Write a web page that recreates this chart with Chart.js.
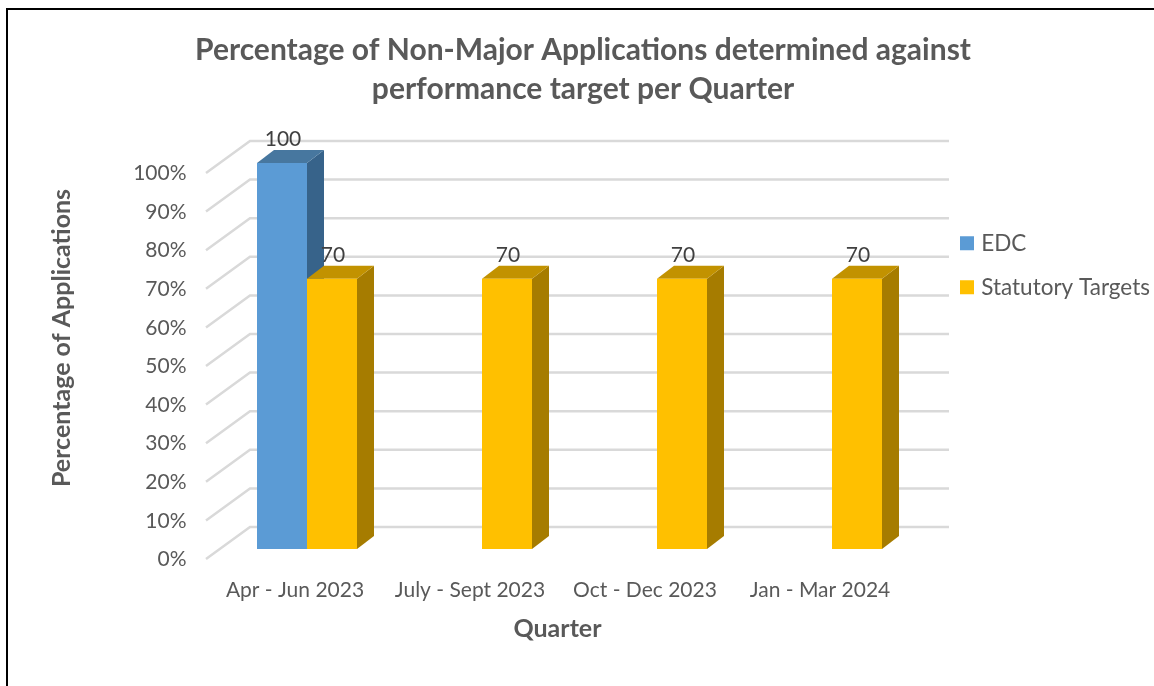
<!DOCTYPE html>
<html>
<head>
<meta charset="utf-8">
<script src="https://cdn.jsdelivr.net/npm/chart.js@4"></script>
<style>
  html, body { margin: 0; padding: 0; background: #fff; overflow: hidden; }
  #wrap { position: relative; width: 1154px; height: 686px; }
  #frame { position: absolute; left: 6px; top: 8px; right: 0; bottom: 0; border-left: 2px solid #000; border-top: 2px solid #000; }
  canvas { position: absolute; left: 0; top: 0; }
</style>
</head>
<body>
<div id="wrap">
  <div id="frame"></div>
  <canvas id="chart" width="1154" height="686"></canvas>
</div>
<script>
const categories = ["Apr - Jun 2023", "July - Sept 2023", "Oct - Dec 2023", "Jan - Mar 2024"];
const edcValues = [100, null, null, null];
const targetValues = [70, 70, 70, 70];
const chartTitle = ["Percentage of Non-Major Applications determined against", "performance target per Quarter"];

const FONT = "Lato";
const DEPTH_X = 17, DEPTH_Y = 13;       // bar depth
const WALL_X = 44, WALL_Y = 32;         // floor diagonal length
const faces = [
  { top: "#47779F", side: "#37638A" },
  { top: "#C29200", side: "#A67C00" },
];

function shape(ctx, color, pts) {
  ctx.fillStyle = color;
  ctx.beginPath();
  pts.forEach((p, i) => (i ? ctx.lineTo(p[0], p[1]) : ctx.moveTo(p[0], p[1])));
  ctx.closePath();
  ctx.fill();
}

// Sideways wall, floor grid and bar sides
const depthPlugin = {
  id: "depth",
  beforeDatasetsDraw(chart) {
    const { ctx, scales } = chart;
    const yScale = scales.y;
    ctx.save();
    ctx.strokeStyle = "#d9d9d9";
    ctx.lineWidth = 2.5;
    yScale.ticks.forEach((t) => {
      const py = yScale.getPixelForValue(t.value);
      // front left end sits 10px below the bar plane, back wall 22px above it
      ctx.beginPath();
      ctx.moveTo(206, py + 10);
      ctx.lineTo(206 + WALL_X, py + 10 - WALL_Y);
      ctx.lineTo(949, py + 10 - WALL_Y);
      ctx.stroke();
    });
    chart.data.datasets.forEach((ds, d) => {
      chart.getDatasetMeta(d).data.forEach((bar, i) => {
        if (ds.data[i] === null) return;
        const { x, y, base, width } = bar.getProps(["x", "y", "base", "width"]);
        const l = x - width / 2, r = x + width / 2;
        shape(ctx, faces[d].side, [[r, y], [r + DEPTH_X, y - DEPTH_Y], [r + DEPTH_X, base - DEPTH_Y], [r, base]]);
        shape(ctx, faces[d].top, [[l, y], [l + DEPTH_X, y - DEPTH_Y], [r + DEPTH_X, y - DEPTH_Y], [r, y]]);
      });
    });
    ctx.restore();
  },
  afterDatasetsDraw(chart) {
    const { ctx } = chart;
    ctx.save();
    ctx.font = "21px " + FONT;
    ctx.fillStyle = "#404040";
    ctx.textAlign = "center";
    ctx.textBaseline = "middle";
    chart.data.datasets.forEach((ds, d) => {
      chart.getDatasetMeta(d).data.forEach((bar, i) => {
        if (ds.data[i] === null) return;
        ctx.fillText(ds.data[i], bar.x + 1, bar.y - 24);
      });
    });
    ctx.restore();
  },
};

function shiftTitle(scale, dx, dy) {
  const draw = scale.drawTitle;
  scale.drawTitle = function () {
    const c = this.ctx;
    c.save();
    c.translate(dx, dy);
    draw.call(this);
    c.restore();
  };
}

// Legend and axis titles sit off the spots Chart.js gives them
const placePlugin = {
  id: "place",
  beforeLayout(chart) {
    if (chart.legend.placed) return;
    chart.legend.placed = true;
    const fit = chart.legend.fit;
    chart.legend.fit = function () {
      fit.call(this);
      this.width = 234.5;
    };
    shiftTitle(chart.scales.x, -12, 0);
    shiftTitle(chart.scales.y, 0, -18);
  },
  afterLayout(chart) {
    const lg = chart.legend;
    lg.left = 964 - lg.options.labels.padding;
    lg.top = 232 - lg.options.labels.padding;
  },
};

new Chart(document.getElementById("chart"), {
  type: "bar",
  data: {
    labels: categories,
    datasets: [
      { label: "EDC", data: edcValues, backgroundColor: "#5B9BD5" },
      { label: "Statutory Targets", data: targetValues, backgroundColor: "#FFC000" },
    ],
  },
  options: {
    responsive: false,
    animation: false,
    layout: { padding: { left: 12, right: 0, top: 0, bottom: 0 } },
    datasets: { bar: { categoryPercentage: 100 / 175, barPercentage: 1 } },
    plugins: {
      title: {
        display: true,
        text: chartTitle,
        color: "#595959",
        font: { family: FONT, size: 30, weight: "bold", lineHeight: "39px" },
        padding: { top: 31, bottom: 54 },
      },
      legend: {
        position: "right",
        align: "start",
        labels: {
          // small box with a thick same colour stroke, keeps the text close to the swatch
          boxWidth: 6,
          boxHeight: 6,
          padding: 21.5,
          color: "#595959",
          font: { family: FONT, size: 22.5 },
          generateLabels: (chart) =>
            Chart.defaults.plugins.legend.labels.generateLabels(chart).map((l) => ({ ...l, lineWidth: 8, strokeStyle: l.fillStyle })),
        },
      },
      tooltip: { enabled: false },
    },
    scales: {
      x: {
        afterFit: (s) => { s.height = 137; },
        grid: { display: false, drawTicks: false },
        border: { display: false },
        ticks: { color: "#595959", font: { family: FONT, size: 21 }, padding: 29, labelOffset: -12, maxRotation: 0, autoSkip: false },
        title: { display: true, text: "Quarter", color: "#595959", font: { family: FONT, size: 25, weight: "bold" }, padding: { top: 0, bottom: 42 } },
      },
      y: {
        min: 0,
        max: 100,
        afterFit: (s) => { s.width = 207.5; },
        grid: { display: false, drawTicks: false },
        border: { display: false },
        ticks: { stepSize: 10, color: "#595959", font: { family: FONT, size: 21 }, padding: 33, labelOffset: 10.5, callback: (v) => v + "%" },
        title: { display: true, text: "Percentage of Applications", color: "#595959", font: { family: FONT, size: 25, weight: "bold" }, padding: { top: 35, bottom: 0 } },
      },
    },
  },
  plugins: [depthPlugin, placePlugin],
});
</script>
</body>
</html>
